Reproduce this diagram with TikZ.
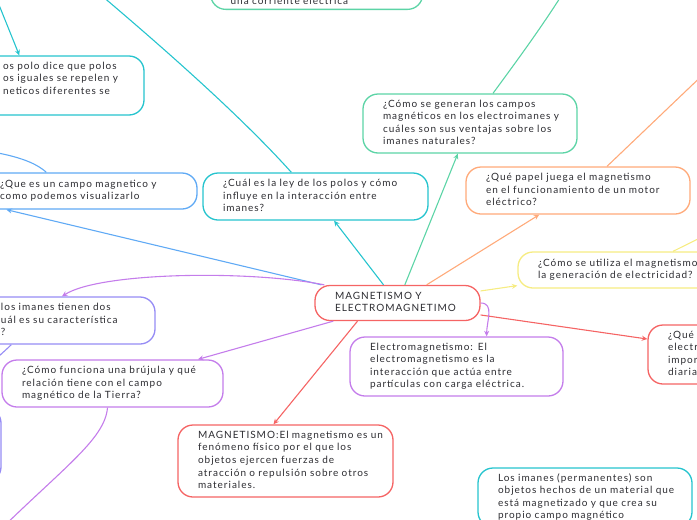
\documentclass[tikz,border=0pt]{standalone}
\usepackage{fontspec}
\setmainfont{Lato}[LetterSpace=10]
\usetikzlibrary{arrows.meta, calc}
\definecolor{mapgreen}{RGB}{92,212,166}
\definecolor{mapcyan}{RGB}{38,196,206}
\definecolor{mapblue}{RGB}{96,170,245}
\definecolor{maporange}{RGB}{255,170,122}
\definecolor{mapyellow}{RGB}{246,236,130}
\definecolor{mapred}{RGB}{245,100,100}
\definecolor{mappurple}{RGB}{196,125,235}
\definecolor{mapviolet}{RGB}{150,140,245}
\definecolor{maptext}{RGB}{45,45,50}
\newcommand{\topictext}[1]{\begin{tabular}{@{}l@{}}#1\end{tabular}}
\tikzset{
  topic/.style={draw, line width=1.3pt, rounded corners=15pt, fill=white, inner xsep=20pt, inner ysep=4pt,
    align=left, text=maptext, font=\fontsize{10}{12.6}\selectfont},
  link/.style={line width=1.1pt},
  linkarrow/.style={link, -{Stealth[length=5.5pt,width=5pt]}},
}

\begin{document}
\begin{tikzpicture}[x=1pt,y=-1pt]
\useasboundingbox (0,0) rectangle (697,520);

% temas
\node (corriente) [topic, draw=mapgreen, text width=172pt, inner ysep=1.5pt, anchor=south west] at (210,10) {\topictext{\strut\\ \strut\\ una corriente eléctrica}};
\node (leypolos) [topic, draw=mapcyan, text width=121pt, minimum height=59pt] at (63.5,85.5) {\topictext{os polo dice que polos\\os iguales se repelen y\\neticos diferentes se\\ \strut}};
\node (queescampo) [topic, draw=mapblue, text width=177pt, minimum height=36pt] at (88.5,191) {\topictext{¿Que es un campo magnetico y\\como podemos visualizarlo}};
\node (cual) [topic, draw=mapcyan, text width=185pt, minimum height=47pt] at (315.5,196.5) {\topictext{¿Cuál es la ley de los polos y cómo\\influye en la interacción entre\\imanes?}};
\node (generan) [topic, draw=mapgreen, text width=174pt, minimum height=59pt] at (470,123.5) {\topictext{¿Cómo se generan los campos\\magnéticos en los electroimanes y\\cuáles son sus ventajas sobre los\\imanes naturales?}};
\node (papel) [topic, draw=maporange, text width=184pt, minimum height=47pt] at (578,190.5) {\topictext{¿Qué papel juega el magnetismo\\en el funcionamiento de un motor\\eléctrico?}};
\node (utiliza) [topic, draw=mapyellow, text width=174pt, minimum height=36pt] at (625,270) {\topictext{¿Cómo se utiliza el magnetismo\\la generación de electricidad?}};
\node (main) [topic, draw=mapred, text width=125pt, minimum height=35pt] at (397.5,303) {\topictext{MAGNETISMO Y\\ELECTROMAGNETIMO}};
\node (electro) [topic, draw=mappurple, text width=173pt, minimum height=59pt] at (456.5,366.5) {\topictext{Electromagnetismo: El\\electromagnetismo es la\\interacción que actúa entre\\partículas con carga eléctrica.}};
\node (quees) [topic, draw=mapred, text width=174pt, minimum height=59pt] at (755,354.5) {\topictext{¿Qué s\\electro\\impor\\diaria}};
\node (brujula) [topic, draw=mappurple, text width=181pt, minimum height=47pt] at (112.5,383.5) {\topictext{¿Cómo funciona una brújula y qué\\relación tiene con el campo\\magnético de la Tierra?}};
\node (imanesdos) [topic, draw=mapviolet, text width=134pt, minimum height=47pt] at (68,320.5) {\topictext{los imanes tienen dos\\uál es su característica\\?}};
\node (leftbox) [topic, draw=mapviolet, text width=110pt, minimum height=74pt] at (-74,445) {};
\node (magnetismo) [topic, draw=mapred, text width=175pt, minimum height=72pt] at (285.5,461) {\topictext{MAGNETISMO:El magnetismo es un\\fenómeno físico por el que los\\objetos ejercen fuerzas de\\atracción o repulsión sobre otros\\materiales.}};
\node (permanentes) [topic, draw=mapcyan, text width=174pt, minimum height=59pt] at (585,497.5) {\topictext{Los imanes (permanentes) son\\objetos hechos de un material que\\está magnetizado y que crea su\\propio campo magnético}};

% conexiones
\draw[linkarrow, mapcyan] (main) -- (cual);
\draw[linkarrow, mapgreen] (main) -- (generan);
\draw[linkarrow, maporange] (main) -- (papel);
\draw[linkarrow, mapyellow] (main) -- (utiliza);
\draw[linkarrow, mapred] (main) -- (quees);
\draw[linkarrow, mappurple] (main) -- (brujula);
\draw[linkarrow, mapred] ([xshift=-40pt]main.south) -- ([xshift=-12pt]magnetismo.north);
\draw[linkarrow, mapblue] (main) -- ([xshift=27pt]queescampo.south west);
\draw[linkarrow, mappurple] (main.east) .. controls +(14,0) and +(0,-15) .. (electro.45);
\draw[linkarrow, mappurple] ([xshift=10pt]main.north west) .. controls (250,270) and (100,272) .. ([xshift=-6pt]imanesdos.north);
\draw[linkarrow, mapcyan] (-7,-10) -- ([xshift=37pt]leypolos.north west);

% ramas hacia fuera
\draw[link, mapcyan] ([xshift=89pt]cual.north west) .. controls (240,115) and (160,45) .. (95,-10);
\draw[link, mapblue] ([xshift=67pt]queescampo.north west) .. controls (35,162) and (15,155) .. (-20,150);
\draw[link, mapviolet] ([xshift=31pt]imanesdos.south west) .. controls (-10,365) and (-40,390) .. (leftbox.north);
\draw[link, mappurple] ([xshift=-5pt]brujula.south) .. controls (105,440) and (60,470) .. (-10,540);
\draw[link, mapgreen] ([xshift=23pt]generan.north) .. controls (510,70) and (540,30) .. (565,-10);
\draw[link, maporange] ([xshift=29pt]papel.north) -- (710,68);
\draw[link, mapyellow] ([xshift=48pt]utiliza.north) -- (720,228);
\end{tikzpicture}
\end{document}
